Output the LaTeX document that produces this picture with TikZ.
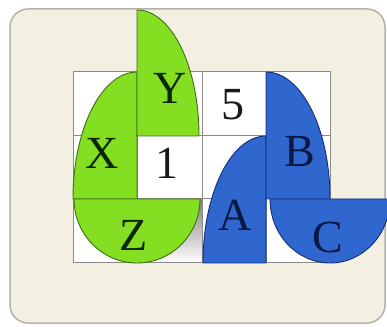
\documentclass[tikz,border=0pt]{standalone}
\usepackage{fontspec}
\setmainfont{Liberation Serif}
\definecolor{bg}{HTML}{F4F0E1}
\definecolor{bgedge}{HTML}{B4B1A8}
\definecolor{lime}{HTML}{84DE22}
\definecolor{limeedge}{HTML}{3E6E12}
\definecolor{royal}{HTML}{2F67CF}
\definecolor{royaledge}{HTML}{122E78}
\definecolor{gridc}{HTML}{8C8A84}
\definecolor{shade}{HTML}{D7D3C6}
\definecolor{gtext}{HTML}{0C2604}
\definecolor{btext}{HTML}{0A1846}
\tikzset{
  greenshape/.style={fill=lime, draw=limeedge, line width=0.9pt},
  blueshape/.style={fill=royal, draw=royaledge, line width=0.9pt},
  cell/.style={fill=white, draw=gridc, line width=1pt},
  lbl/.style={font=\fontsize{46}{46}\selectfont, inner sep=0pt},
}
\begin{document}
\begin{tikzpicture}[x=1pt,y=1pt]
\useasboundingbox (0,0) rectangle (387,326);
\clip (0,0) rectangle (387,326);
% background panel
\draw[fill=bg, draw=bgedge, line width=1.5pt, rounded corners=18pt] (10,3) rectangle (385,317);
% grid cells
\foreach \c/\xa/\xb in {0/73/137,1/137/202,2/202/266,3/266/330}{
  \foreach \r/\ya/\yb in {0/190/254,1/127/190,2/63/127}{
    \draw[cell] (\xa,\ya) rectangle (\xb,\yb);
  }
}
\fill[shade] (137,63) rectangle (202,127);
\draw[gridc, line width=1pt] (137,63) rectangle (202,127);
% green shapes
\draw[greenshape] (137,127) -- (137,254) arc[start angle=90, end angle=180, x radius=64pt, y radius=127pt] -- cycle;
\draw[greenshape] (137,190) -- (137,316) arc[start angle=90, end angle=0, x radius=62pt, y radius=126pt] -- cycle;
\draw[greenshape] (74,127) arc[start angle=180, end angle=360, x radius=63pt, y radius=64pt] -- cycle;
% blue shapes
\draw[blueshape] (266,63) -- (266,190) arc[start angle=90, end angle=180, x radius=63pt, y radius=127pt] -- cycle;
\draw[blueshape] (266,127) -- (266,254) arc[start angle=90, end angle=0, x radius=64pt, y radius=127pt] -- cycle;
\draw[blueshape] (270,127) arc[start angle=180, end angle=360, x radius=60pt, y radius=64pt] -- cycle;
% labels
\node[lbl, text=gtext] (Y) at (170,238) {Y};
\node[lbl, text=gtext] (X) at (102,173) {X};
\node[lbl, text=gtext] (Z) at (134,91) {Z};
\node[lbl, text=black!90] (five) at (233,221) {5};
\node[lbl, text=black!90] (one) at (167,163) {1};
\node[lbl, text=btext] (B) at (300,174) {B};
\node[lbl, text=btext] (A) at (235,111) {A};
\node[lbl, text=btext] (C) at (328,89) {C};
\end{tikzpicture}
\end{document}
